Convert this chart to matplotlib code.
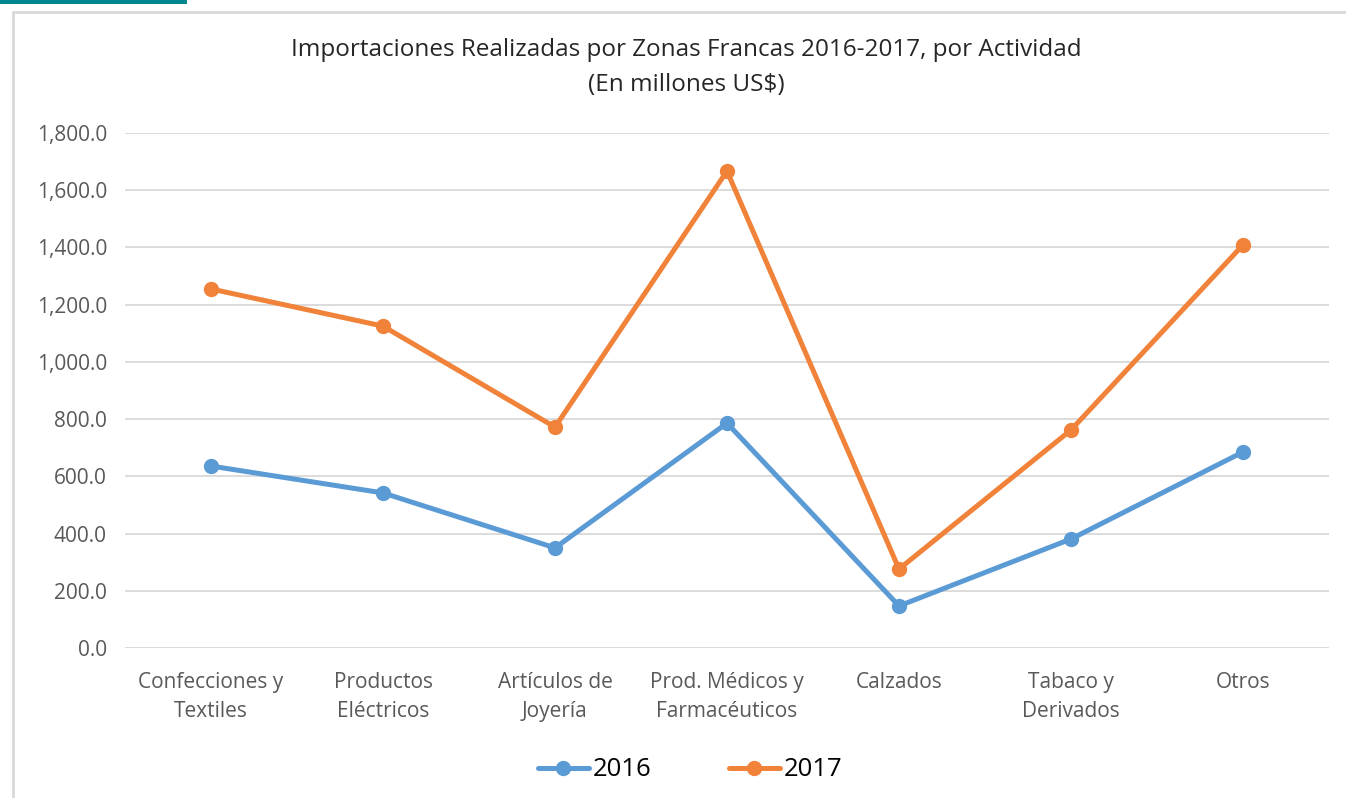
import matplotlib
matplotlib.use("Agg")
import matplotlib.pyplot as plt
from matplotlib.patches import Rectangle
from matplotlib.ticker import FuncFormatter, MultipleLocator

categories = ["Confecciones y\nTextiles", "Productos\nEléctricos", "Artículos de\nJoyería",
              "Prod. Médicos y\nFarmacéuticos", "Calzados", "Tabaco y\nDerivados", "Otros"]
imports_2016 = [636, 542, 350, 786, 147, 381, 685]
imports_2017 = [1255, 1125, 772, 1667, 276, 762, 1409]

plt.rcParams["font.family"] = ["Open Sans", "DejaVu Sans"]

W, H = 1346, 798
fig = plt.figure(figsize=(W / 100, H / 100), dpi=100)

# chart frame (runs off right/bottom edges) and teal accent bar
fig.patches.append(Rectangle((13 / W, -0.05), 1.1, 1.05 - 12 / H, transform=fig.transFigure,
                             fill=False, edgecolor="#D9D9D9", linewidth=2))
fig.patches.append(Rectangle((0, 1 - 4 / H), 187 / W, 4 / H, transform=fig.transFigure,
                             facecolor="#00868F", edgecolor="none"))

ax = fig.add_axes([125 / W, 1 - 648 / H, 1204 / W, 515 / H])
x = range(len(categories))
ax.plot(x, imports_2016, color="#5B9BD5", lw=3.6, marker="o", ms=10, label="2016",
        solid_capstyle="round")
ax.plot(x, imports_2017, color="#F0823A", lw=3.6, marker="o", ms=10, label="2017",
        solid_capstyle="round")

ax.set_xlim(-0.5, 6.5)
ax.set_ylim(0, 1800)
ax.yaxis.set_major_locator(MultipleLocator(200))
ax.yaxis.set_major_formatter(FuncFormatter(lambda v, p: f"{v:,.1f}"))
ax.set_xticks(list(x))
ax.set_xticklabels(categories, linespacing=1.55)
ax.tick_params(axis="both", length=0, labelsize=15, colors="#595959")
ax.tick_params(axis="y", pad=13)
ax.tick_params(axis="x", pad=17)
ax.grid(True, axis="y", color="#D9D9D9", lw=1.3)
ax.set_axisbelow(True)
for s in ax.spines.values():
    s.set_visible(False)

fig.text(686 / W, 1 - 50 / H, "Importaciones Realizadas por Zonas Francas 2016-2017, por Actividad",
         ha="center", va="center", fontsize=17.5, color="#262626")
fig.text(686 / W, 1 - 85 / H, "(En millones US$)", ha="center", va="center",
         fontsize=17.5, color="#262626")

fig.legend(loc="center", bbox_to_anchor=(690 / W, 1 - 770 / H), ncol=2, frameon=False,
           fontsize=18.5, handlelength=2.0, columnspacing=3.0, handletextpad=0.15)

fig.savefig("out.png", dpi=100)
